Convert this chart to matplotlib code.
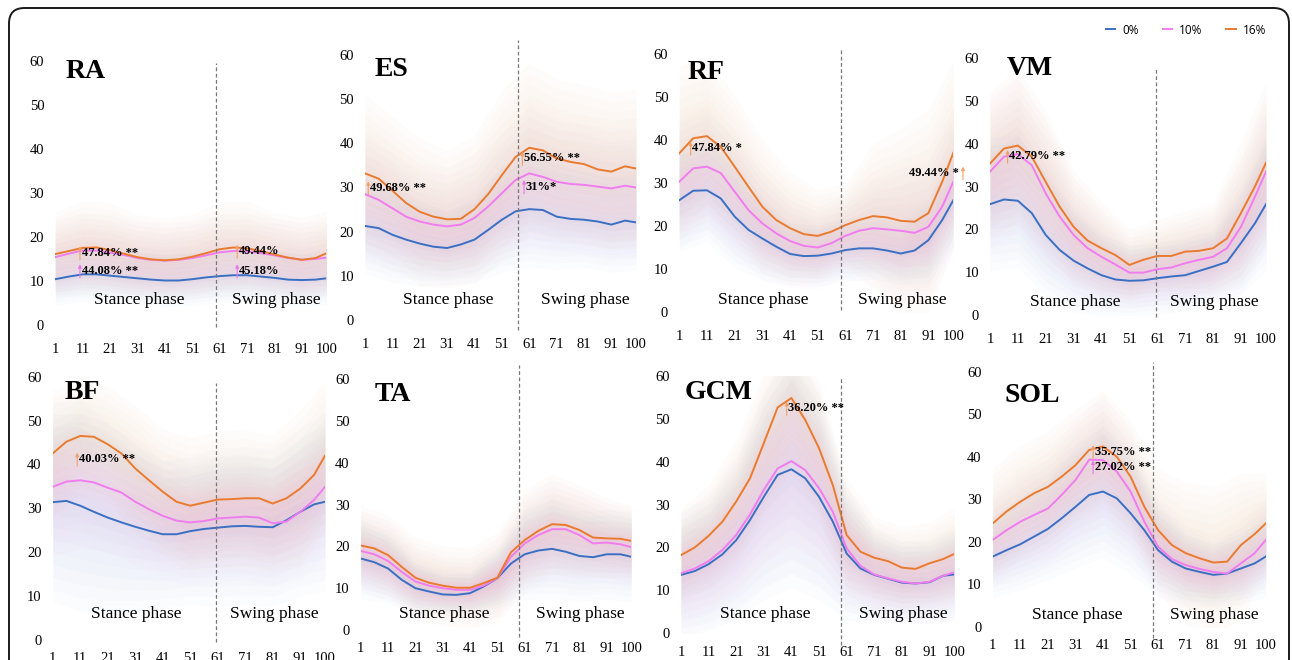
import matplotlib.pyplot as plt
from matplotlib.patches import FancyBboxPatch

# gait cycle (%) sample points
x = [1, 6, 11, 16, 21, 26, 31, 36, 41, 46, 51, 56, 61, 66, 71, 76, 81, 86, 91, 96, 100]
x_sd = x[::2]   # 1, 11, ..., 91, 100
xticks = [1, 11, 21, 31, 41, 51, 61, 71, 81, 91, 100]

# ---- RA ----
ra_0 = [10.4, 11.0, 11.5, 11.5, 11.2, 10.9, 10.6, 10.3, 10.1, 10.1, 10.4, 10.8, 11.1, 11.3, 11.3, 11.0, 10.7, 10.3, 10.2, 10.3, 10.6]
ra_10 = [15.4, 16.2, 16.9, 16.9, 16.4, 15.9, 15.2, 14.8, 14.6, 14.8, 15.2, 15.8, 16.5, 16.8, 16.7, 16.3, 15.8, 15.2, 14.8, 15.0, 15.3]
ra_16 = [16.1, 16.8, 17.5, 17.6, 17.0, 16.2, 15.4, 14.9, 14.7, 14.9, 15.5, 16.3, 17.2, 17.6, 17.4, 16.8, 16.0, 15.3, 14.8, 15.2, 16.3]
ra_sd0 = [5, 5, 5, 5, 5, 5, 5, 5, 5, 5, 5]
ra_sd10 = [7, 7, 7, 7, 7, 7, 7, 7, 7, 7, 7]
ra_sd16 = [8, 9, 9, 8, 8, 8, 9, 9, 8, 8, 8]

# ---- ES ----
es_0 = [21.3, 20.8, 19.3, 18.2, 17.3, 16.6, 16.3, 17.1, 18.2, 20.4, 22.7, 24.6, 25.1, 24.9, 23.4, 22.9, 22.7, 22.3, 21.6, 22.5, 22.1]
es_10 = [28.5, 27.2, 25.3, 23.4, 22.3, 21.6, 21.2, 21.6, 23.1, 25.7, 28.7, 31.7, 33.2, 32.4, 31.3, 30.8, 30.6, 30.2, 29.8, 30.4, 30.0]
es_16 = [33.2, 32.0, 29.3, 26.5, 24.5, 23.4, 22.8, 22.9, 25.1, 28.5, 32.8, 36.9, 39.0, 38.4, 36.6, 35.8, 35.3, 34.1, 33.6, 34.8, 34.3]
es_sd0 = [9, 9, 8, 7, 8, 10, 11, 10, 9, 9, 9]
es_sd10 = [12, 12, 11, 11, 12, 13, 14, 13, 13, 13, 13]
es_sd16 = [15, 14, 14, 13, 14, 16, 16, 15, 15, 15, 15]

# ---- RF ----
rf_0 = [26.0, 28.2, 28.3, 26.4, 22.2, 19.1, 17.1, 15.2, 13.5, 13.0, 13.1, 13.6, 14.4, 14.8, 14.8, 14.3, 13.6, 14.3, 16.7, 21.4, 26.0]
rf_10 = [30.3, 33.4, 33.8, 32.3, 28.0, 23.7, 20.6, 18.3, 16.5, 15.4, 15.0, 16.0, 17.7, 18.9, 19.5, 19.2, 18.9, 18.4, 19.8, 24.5, 30.3]
rf_16 = [36.9, 40.4, 40.9, 38.4, 33.8, 29.1, 24.5, 21.4, 19.5, 18.1, 17.7, 18.7, 20.2, 21.4, 22.3, 22.0, 21.2, 21.0, 23.0, 30.3, 37.0]
rf_sd0 = [10, 10, 10, 8, 6, 6, 6, 6, 6, 8, 10]
rf_sd10 = [13, 12, 12, 11, 9, 8, 8, 11, 14, 15, 14]
rf_sd16 = [17, 15, 14, 13, 11, 9, 8, 14, 18, 20, 18]

# ---- VM ----
vm_0 = [25.9, 27.0, 26.7, 23.8, 18.7, 15.2, 12.7, 10.9, 9.3, 8.3, 8.0, 8.1, 8.6, 9.0, 9.3, 10.3, 11.3, 12.4, 16.8, 21.4, 25.9]
vm_10 = [33.5, 37.0, 37.6, 35.0, 28.4, 23.0, 18.7, 15.6, 13.6, 11.8, 9.9, 9.9, 10.7, 11.1, 12.1, 12.9, 13.6, 15.6, 20.6, 27.6, 33.5]
vm_16 = [35.4, 38.9, 39.6, 37.0, 31.1, 25.3, 20.6, 17.4, 15.6, 14.0, 11.7, 12.9, 13.8, 13.8, 14.8, 15.0, 15.6, 17.9, 23.8, 30.0, 35.6]
vm_sd0 = [13, 13, 12, 10, 8, 7, 7, 7, 7, 10, 13]
vm_sd10 = [15, 15, 14, 11, 9, 7, 7, 8, 9, 13, 15]
vm_sd16 = [14, 15, 14, 11, 9, 7, 7, 8, 9, 14, 16]

# ---- BF ----
bf_0 = [31.4, 31.7, 30.6, 29.2, 27.9, 26.8, 25.8, 24.9, 24.1, 24.1, 24.8, 25.3, 25.6, 25.9, 26.0, 25.8, 25.7, 27.3, 29.2, 30.9, 31.5]
bf_10 = [34.9, 36.1, 36.4, 35.9, 34.7, 33.6, 31.5, 29.8, 28.3, 27.2, 26.8, 27.1, 27.7, 27.9, 28.1, 27.9, 26.6, 27.0, 29.2, 31.9, 34.9]
bf_16 = [42.5, 45.2, 46.5, 46.3, 44.6, 42.5, 39.1, 36.4, 33.8, 31.5, 30.6, 31.3, 32.0, 32.1, 32.3, 32.3, 31.1, 32.3, 34.5, 37.6, 42.0]
bf_sd0 = [19, 20, 18, 16, 14, 14, 15, 15, 15, 16, 17]
bf_sd10 = [13, 13, 12, 12, 12, 12, 12, 12, 12, 13, 13]
bf_sd16 = [12, 11, 11, 12, 12, 13, 13, 13, 13, 15, 14]

# ---- TA ----
ta_0 = [17.1, 16.2, 14.7, 12.0, 10.0, 9.2, 8.5, 8.4, 8.8, 10.4, 12.4, 15.9, 18.1, 19.0, 19.4, 18.7, 17.7, 17.4, 18.1, 18.1, 17.5]
ta_10 = [18.9, 18.1, 16.5, 13.9, 11.6, 10.6, 10.0, 9.6, 9.6, 10.6, 12.4, 17.5, 20.7, 22.7, 24.1, 24.1, 22.7, 20.7, 20.9, 20.5, 19.8]
ta_16 = [20.2, 19.5, 17.9, 15.1, 12.5, 11.3, 10.6, 10.1, 10.1, 11.2, 12.5, 18.6, 21.5, 23.7, 25.3, 25.1, 23.9, 22.1, 21.9, 21.8, 21.3]
ta_sd0 = [8, 7, 5, 4, 4, 6, 9, 10, 9, 9, 9]
ta_sd10 = [8, 8, 7, 6, 6, 8, 10, 10, 9, 8, 8]
ta_sd16 = [8, 8, 8, 8, 8, 9, 10, 10, 9, 8, 7]

# ---- GCM ----
gcm_0 = [13.6, 14.5, 16.1, 18.4, 21.7, 26.4, 31.8, 36.9, 38.2, 36.1, 31.8, 26.0, 18.6, 15.1, 13.6, 12.7, 11.8, 11.6, 11.9, 13.4, 13.7]
gcm_10 = [14.0, 15.1, 16.8, 19.4, 22.9, 27.7, 33.4, 38.4, 40.1, 38.0, 33.8, 28.3, 19.8, 15.7, 13.7, 12.8, 12.0, 11.6, 12.0, 13.4, 14.2]
gcm_16 = [18.2, 20.0, 22.7, 26.0, 30.7, 36.1, 44.3, 52.6, 54.8, 49.7, 43.1, 34.5, 22.9, 19.0, 17.6, 16.8, 15.3, 15.0, 16.3, 17.3, 18.5]
gcm_sd0 = [12, 13, 15, 20, 23, 20, 13, 9, 8, 8, 9]
gcm_sd10 = [12, 13, 15, 19, 22, 19, 12, 9, 8, 8, 9]
gcm_sd16 = [9, 10, 12, 14, 14, 13, 11, 8, 8, 8, 9]

# ---- SOL ----
sol_0 = [16.5, 18.0, 19.4, 21.2, 23.0, 25.5, 28.2, 31.0, 31.8, 30.2, 26.7, 22.7, 18.0, 15.3, 13.7, 12.9, 12.2, 12.5, 13.7, 14.9, 16.5]
sol_10 = [20.4, 22.7, 24.7, 26.3, 27.8, 31.0, 34.5, 39.3, 39.2, 36.5, 31.8, 24.7, 18.8, 15.9, 14.5, 13.6, 12.9, 12.5, 14.9, 17.3, 20.4]
sol_16 = [24.3, 27.1, 29.4, 31.4, 32.9, 35.3, 38.0, 41.6, 42.4, 40.0, 35.3, 28.2, 22.7, 19.2, 17.3, 16.1, 15.1, 15.3, 19.2, 21.8, 24.3]
sol_sd0 = [8, 9, 10, 12, 13, 12, 9, 7, 6, 7, 8]
sol_sd10 = [9, 10, 11, 12, 13, 12, 10, 8, 7, 8, 9]
sol_sd16 = [11, 11, 11, 11, 11, 11, 12, 14, 15, 14, 10]

muscles = ['RA', 'ES', 'RF', 'VM', 'BF', 'TA', 'GCM', 'SOL']
means = {
    'RA': (ra_0, ra_10, ra_16), 'ES': (es_0, es_10, es_16),
    'RF': (rf_0, rf_10, rf_16), 'VM': (vm_0, vm_10, vm_16),
    'BF': (bf_0, bf_10, bf_16), 'TA': (ta_0, ta_10, ta_16),
    'GCM': (gcm_0, gcm_10, gcm_16), 'SOL': (sol_0, sol_10, sol_16),
}
sds = {
    'RA': (ra_sd0, ra_sd10, ra_sd16), 'ES': (es_sd0, es_sd10, es_sd16),
    'RF': (rf_sd0, rf_sd10, rf_sd16), 'VM': (vm_sd0, vm_sd10, vm_sd16),
    'BF': (bf_sd0, bf_sd10, bf_sd16), 'TA': (ta_sd0, ta_sd10, ta_sd16),
    'GCM': (gcm_sd0, gcm_sd10, gcm_sd16), 'SOL': (sol_sd0, sol_sd10, sol_sd16),
}
labels = ['0%', '10%', '16%']
colors = ['#3A6FC4', '#F07CF0', '#EA7A2E']
arrow_cols = {'o': '#F2A06A', 'p': '#E877E8'}

# significance notes: (arrow x, y, text, colour, side)
notes = {
    'RA': [(10.0, 16.4, '47.84% **', 'o', 'r'), (10.0, 12.3, '44.08% **', 'p', 'r'),
           (67.4, 16.7, '49.44%', 'o', 'r'), (67.4, 12.3, '45.18%', 'p', 'r')],
    'ES': [(2.2, 29.9, '49.68% **', 'o', 'r'), (58.5, 36.6, '56.55% **', 'o', 'r'),
           (59.1, 30.2, '31%*', 'p', 'r')],
    'RF': [(5.1, 38.1, '47.84% *', 'o', 'r'), (103.5, 32.3, '49.44% *', 'o', 'l')],
    'VM': [(7.3, 37.1, '42.79% **', 'o', 'r')],
    'BF': [(9.9, 41.2, '40.03% **', 'o', 'r')],
    'TA': [],
    'GCM': [(39.3, 52.4, '36.20% **', 'o', 'r')],
    'SOL': [(37.4, 41.2, '35.75% **', 'o', 'r'), (37.4, 37.6, '27.02% **', 'p', 'r')],
}

# layout in pixels: left, right, top, bottom (y=60 at top, y=0 at bottom)
W, H = 1292, 660
rects = {
    'RA': (55.3, 326.5, 60.7, 325), 'ES': (365, 636, 55, 320),
    'RF': (679.3, 953.3, 54, 312), 'VM': (990, 1266, 58.3, 315),
    'BF': (52.7, 325, 376.7, 640), 'TA': (360.7, 631.3, 379, 630),
    'GCM': (681, 954.3, 375.7, 633.3), 'SOL': (992.7, 1265.7, 371.7, 626.7),
}
divider = {'RA': (59.6, -0.5, 59.5), 'ES': (57.0, -2.3, 63.3), 'RF': (59.4, 0.5, 60.9),
           'VM': (60.6, -0.5, 57.7), 'BF': (60.4, -0.5, 58.5), 'TA': (58.9, -1.7, 63.4),
           'GCM': (58.8, -2.7, 59.7), 'SOL': (59.2, -2.7, 62.3)}
title_pos = {'RA': (4.6, 57.5), 'ES': (4.6, 56.8), 'RF': (3.9, 55.8), 'VM': (7.1, 57.5),
             'BF': (5.4, 56.3), 'TA': (6.1, 56.2), 'GCM': (2.4, 56.0), 'SOL': (5.3, 54.3)}
phase_y = {'RA': 5.7, 'ES': 4.5, 'RF': 2.8, 'VM': 3.1, 'BF': 5.9, 'TA': 3.8, 'GCM': 4.5, 'SOL': 2.8}
top_row = ['RA', 'ES', 'RF', 'VM']

serif = 'Liberation Serif'
fig = plt.figure(figsize=(W / 100, H / 100), dpi=100)

frame = FancyBboxPatch((9 / W, -0.05), 1280 / W, 1 - 8 / H + 0.05,
                       boxstyle='round,pad=0,rounding_size=0.012', mutation_aspect=W / H,
                       transform=fig.transFigure, fill=False, ec='#1a1a1a', lw=1.4)
fig.patches.append(frame)

# soft-edged SD bands: many thin layers
band_steps = [1.2, 1.05, 0.9, 0.75, 0.6, 0.45, 0.3, 0.15]

handles = []
for m in muscles:
    l, r, t, b = rects[m]
    ax = fig.add_axes([l / W, 1 - b / H, (r - l) / W, (b - t) / H])
    ax.set_facecolor('none')
    for k in range(3):
        mu = means[m][k]
        sd = sds[m][k]
        mc = mu[::2]
        for f in band_steps:
            ax.fill_between(x_sd, [a - f * s for a, s in zip(mc, sd)],
                            [a + f * s for a, s in zip(mc, sd)],
                            color=colors[k], alpha=0.016, lw=0)
    for k in range(3):
        ln, = ax.plot(x, means[m][k], color=colors[k], lw=1.4, label=labels[k])
        if m == 'RA':
            handles.append(ln)

    xd, lo, hi = divider[m]
    ax.plot([xd, xd], [lo, hi], ls=(0, (3, 2)), color='#777777', lw=0.9, clip_on=False)

    ax.set_xlim(1, 100)
    ax.set_ylim(0, 60)
    ax.set_xticks(xticks)
    ax.set_yticks(range(0, 61, 10))
    ax.tick_params(length=0, labelsize=10.5)
    ax.tick_params(axis='x', pad=13 if m in top_row else 9)
    ax.tick_params(axis='y', pad=8)
    for lab in ax.get_xticklabels() + ax.get_yticklabels():
        lab.set_family(serif)
    for s in ax.spines.values():
        s.set_visible(False)

    tx, ty = title_pos[m]
    ax.text(tx, ty, m, family=serif, fontsize=20, fontweight='bold', va='center', ha='left')
    ax.text(31.5, phase_y[m], 'Stance phase', family=serif, fontsize=12.5, ha='center', va='center')
    ax.text(81.5, phase_y[m], 'Swing phase', family=serif, fontsize=12.5, ha='center', va='center')

    for xa, ya, txt, c, side in notes[m]:
        ax.annotate('', xy=(xa, ya + 1.5), xytext=(xa, ya - 1.6),
                    arrowprops=dict(arrowstyle='-|>', color=arrow_cols[c], lw=0.8,
                                    mutation_scale=5, shrinkA=0, shrinkB=0),
                    annotation_clip=False)
        if side == 'r':
            ax.text(xa + 0.6, ya, txt, family=serif, fontsize=9, fontweight='bold',
                    ha='left', va='center', clip_on=False)
        else:
            ax.text(xa - 1.6, ya, txt, family=serif, fontsize=9, fontweight='bold',
                    ha='right', va='center', clip_on=False)

fig.legend(handles=handles, labels=labels, loc='center', ncol=3,
           bbox_to_anchor=(1186 / W, 1 - 30 / H), frameon=False,
           prop={'family': 'Open Sans', 'size': 8.5}, handlelength=0.8,
           handletextpad=0.6, columnspacing=2.0)

fig.savefig('out.png', dpi=100)
